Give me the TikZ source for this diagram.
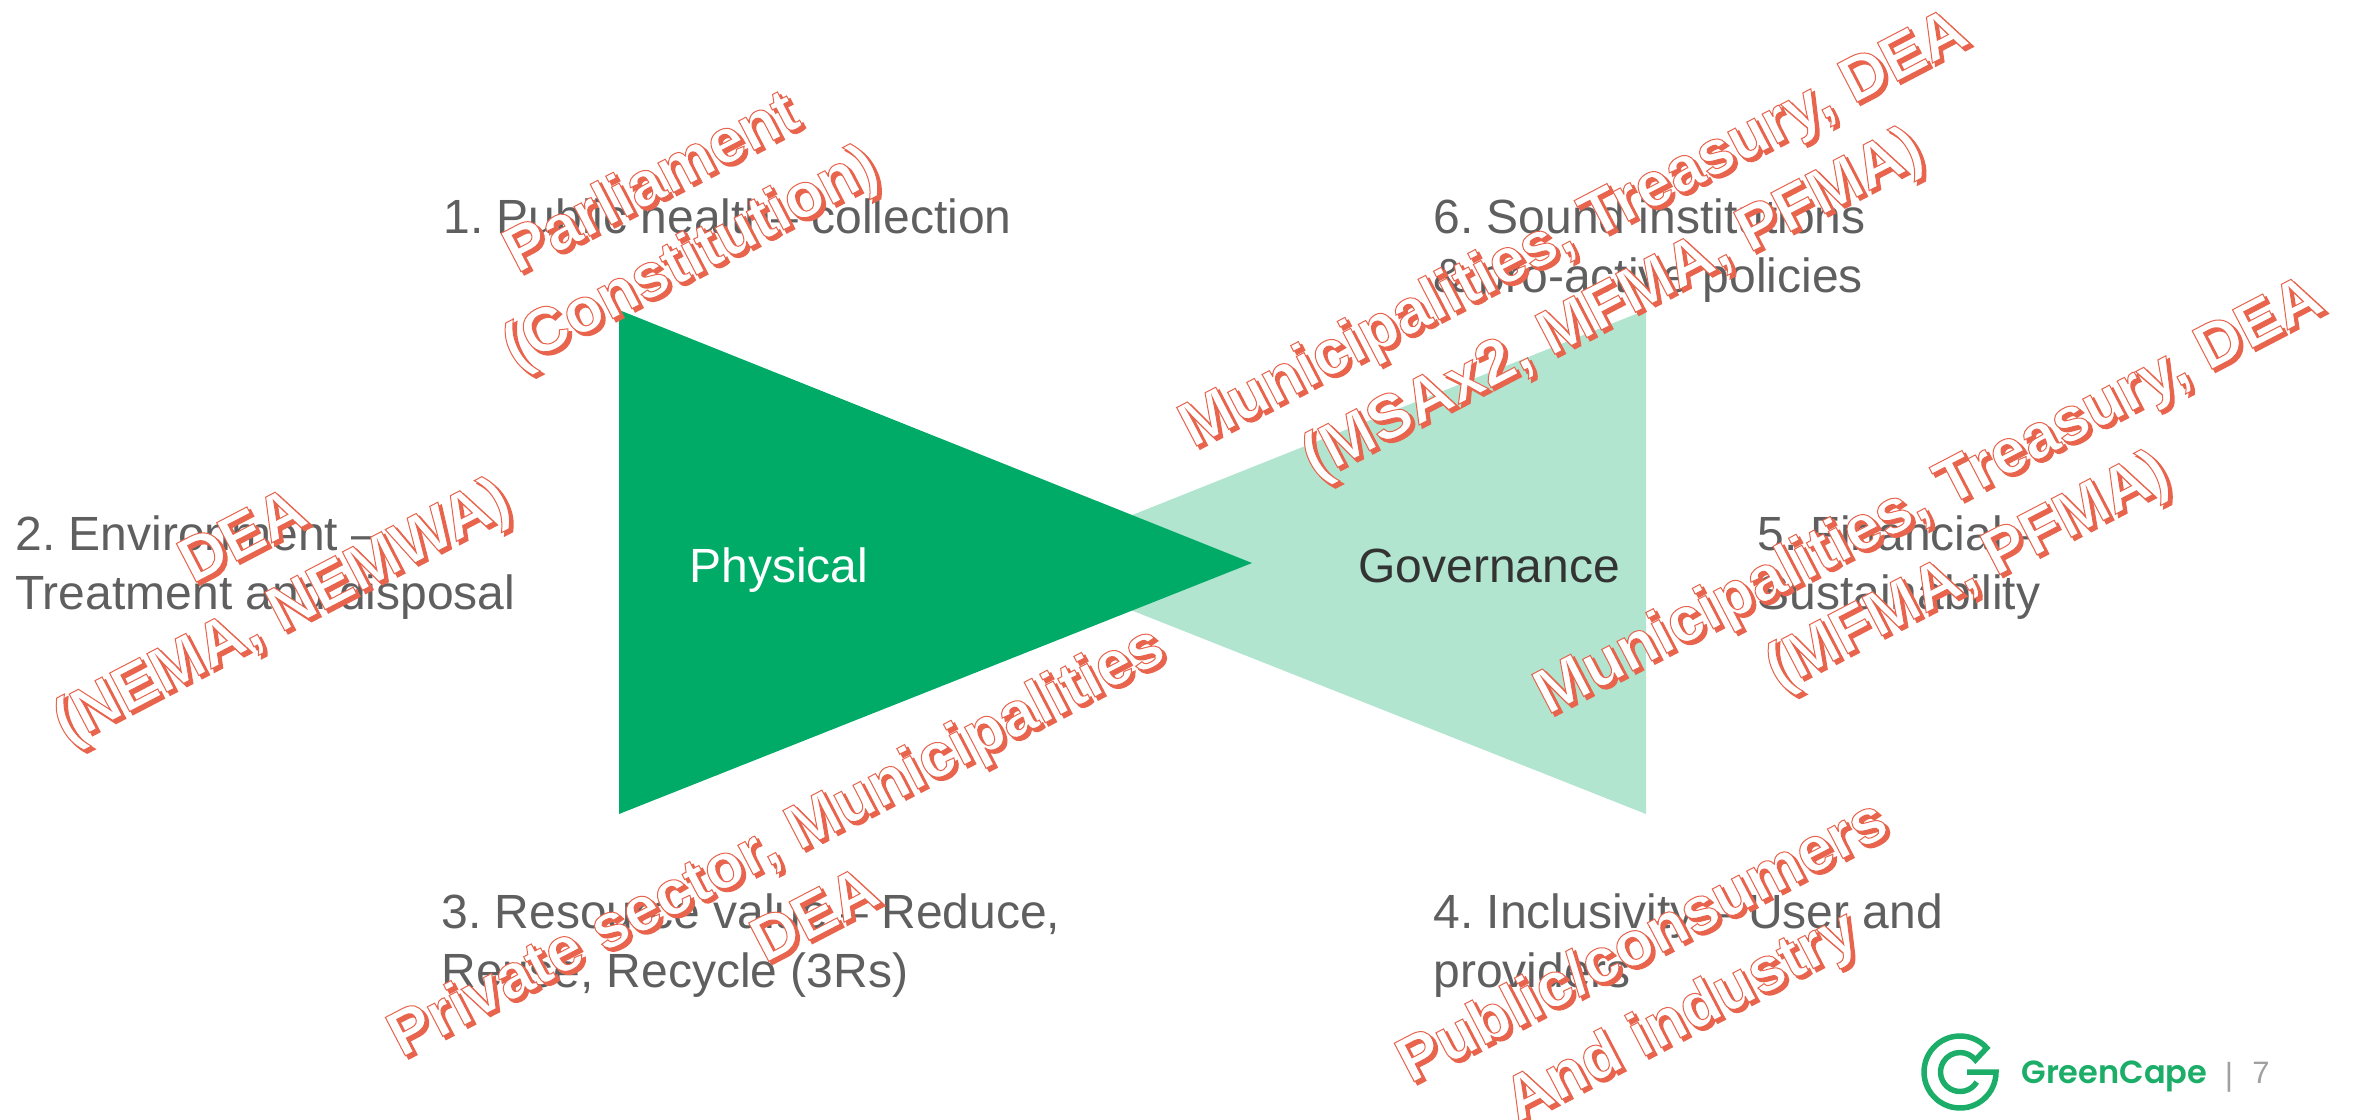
\documentclass[tikz,border=0pt]{standalone}
\usepackage{fontspec}
\setmainfont{Liberation Sans}
\newfontfamily\logofont{Poppins SemiBold}
\newcommand{\artline}[1]{\leavevmode\rlap{\raisebox{-2.1pt}{\kern0.8pt\textcolor{stampred}{\special{pdf:code 2 Tr 0.8 w}#1\special{pdf:code 0 Tr}}}}\textcolor{white}{\special{pdf:code 2 Tr 0.5 w 0.91 0.39 0.30 RG}#1\special{pdf:code 0 Tr}}}
\frenchspacing
\begin{document}
\begin{tikzpicture}[x=0.5pt,y=-0.5pt,
	topic node/.style={anchor=north west,inner sep=0pt,align=left,text=topicgray,font=\fontsize{24}{29.75}\selectfont},
	wing node/.style={anchor=base west,inner sep=0pt,font=\fontsize{24}{29.75}\selectfont},
	stamp node/.style={rotate=27.5,inner sep=0pt,align=center,font=\bfseries\fontsize{31.5}{42}\selectfont}]
	
	\definecolor{physgreen}{RGB}{0,171,103}
	\definecolor{govgreen}{RGB}{177,229,207}
	\definecolor{topicgray}{RGB}{95,95,95}
	\definecolor{stampred}{RGB}{232,100,76}
	\definecolor{logogreen}{RGB}{28,173,104}
	\definecolor{pagegray}{RGB}{160,160,160}
	
	\useasboundingbox (0,0) rectangle (2354,1119);
	
	\fill[govgreen] (1646,310) -- (1646,814) -- (1012,563) -- cycle;
	\fill[physgreen] (619,310) -- (619,814) -- (1252,563) -- cycle;
	
	\node[wing node,text=white] (physical) at (689,582) {Physical};
	\node[wing node,text=black!80] (governance) at (1358,582) {Governance};
	
	\node[topic node] (public) at (443,198) {1. Public health– collection};
	\node[topic node] (environment) at (15,515) {2. Environment –\\Treatment and disposal};
	\node[topic node] (resource) at (441,893) {3. Resource value – Reduce,\\Reuse, Recycle (3Rs)};
	\node[topic node] (inclusivity) at (1433,893) {4. Inclusivity – User and\\providers};
	\node[topic node] (financial) at (1757,515) {5. Financial –\\Sustainability};
	\node[topic node] (institutions) at (1433,198) {6. Sound institutions\\\& pro-active policies};
	
	\node[stamp node] (parliament) at (673,224) {\artline{Parliament}\\\artline{(Constitution)}};
	\node[stamp node] (dea) at (265,579) {\artline{DEA}\\\artline{(NEMA, NEMWA)}};
	\node[stamp node] (private) at (795,877) {\artline{Private sector, Municipalities}\\\artline{DEA}};
	\node[stamp node] (consumers) at (1664,983) {\artline{Public/consumers}\\\artline{And industry}};
	\node[stamp node] (finance) at (1950,537) {\artline{Municipalities, Treasury, DEA}\\\artline{(MFMA, PFMA)}};
	\node[stamp node] (sound) at (1595,270) {\artline{Municipalities, Treasury, DEA}\\\artline{(MSAx2, MFMA, PFMA)}};
	
	\begin{scope}[shift={(1960,1072)},yscale=-1]
		\draw[logogreen,line width=2.75pt] (-31:19.5) arc[start angle=-31,end angle=-322,radius=19.5] -- (42:36) arc[start angle=42,end angle=360,radius=36] -- (7,0);
	\end{scope}
	
	\node[anchor=base west,inner sep=0pt,text=logogreen,font=\logofont\fontsize{16}{20}\selectfont] (logo) at (2021,1083) {GreenCape};
	\node[anchor=base west,inner sep=0pt,text=pagegray,font=\fontsize{15.5}{18}\selectfont] (page) at (2252,1083) {7};
	\node[anchor=base,inner sep=0pt,text=pagegray,font=\fontsize{16}{18}\selectfont] (bar) at (2229,1085) {|};
\end{tikzpicture}
\end{document}
